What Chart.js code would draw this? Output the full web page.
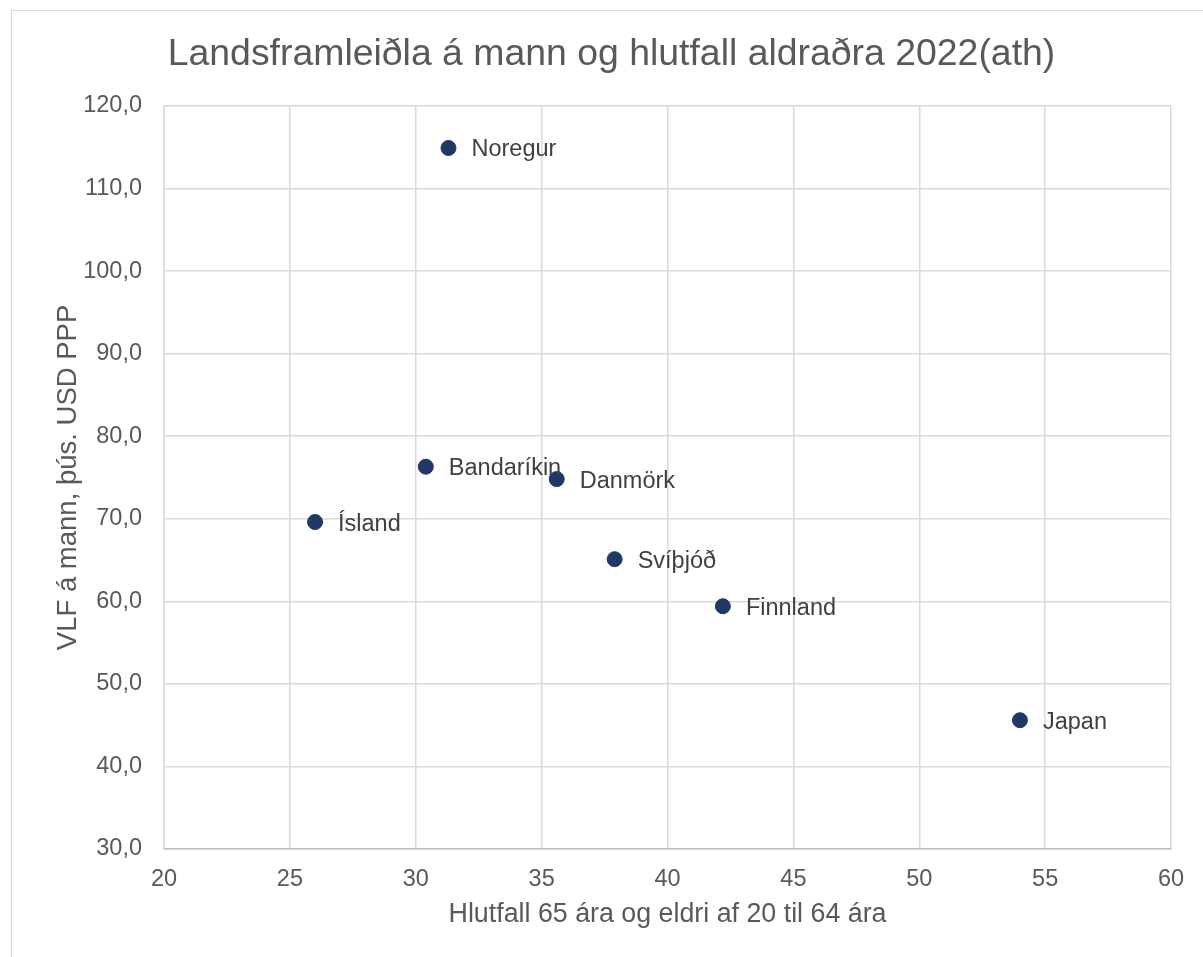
<!DOCTYPE html>
<html>
<head>
<meta charset="utf-8">
<script src="https://cdn.jsdelivr.net/npm/chart.js@4.4.1/dist/chart.umd.min.js"></script>
<style>
    html, body { margin: 0; padding: 0; background: #fff; }
    #frame { position: absolute; left: 11px; top: 10px; width: 1300px; height: 1000px; border: 1px solid #d9d9d9; }
    #wrap { position: absolute; left: 0; top: 0; width: 1203px; height: 957px; }
</style>
</head>
<body>
<div id="frame"></div>
<div id="wrap"><canvas id="scatterChart"></canvas></div>
<script>
// Data
const countries = ['Noregur', 'Bandaríkin', 'Danmörk', 'Ísland', 'Svíþjóð', 'Finnland', 'Japan'];
const elderlyRatio = [31.3, 30.4, 35.6, 26.0, 37.9, 42.2, 54.0];
const gdpPerCapita = [114.9, 76.3, 74.8, 69.6, 65.1, 59.4, 45.6];

const fontFamily = '"Liberation Sans", Arial, sans-serif';

// Country names drawn to the right of each point
const pointLabels = {
    id: 'pointLabels',
    afterDatasetsDraw(chart) {
        const ctx = chart.ctx;
        const meta = chart.getDatasetMeta(0);
        ctx.save();
        ctx.font = '23.5px ' + fontFamily;
        ctx.fillStyle = '#404040';
        ctx.textAlign = 'left';
        ctx.textBaseline = 'middle';
        meta.data.forEach((pt, i) => {
            ctx.fillText(countries[i], pt.x + 23, pt.y + 2);
        });
        ctx.restore();
    }
};

const ctx = document.getElementById('scatterChart').getContext('2d');
new Chart(ctx, {
    type: 'scatter',
    plugins: [pointLabels],
    data: {
        datasets: [{
            data: elderlyRatio.map((x, i) => ({ x: x, y: gdpPerCapita[i] })),
            backgroundColor: '#203864',
            borderColor: '#203864',
            pointRadius: 7.5,
            pointHoverRadius: 7.5
        }]
    },
    options: {
        responsive: true,
        maintainAspectRatio: false,
        animation: false,
        layout: { padding: { left: 52, right: 32, top: 0, bottom: 20 } },
        plugins: {
            legend: { display: false },
            tooltip: { enabled: false },
            title: {
                display: true,
                text: 'Landsframleiðla á mann og hlutfall aldraðra 2022(ath)',
                color: '#595959',
                font: { family: fontFamily, size: 37.4, weight: 'normal' },
                padding: { top: 32, bottom: 29 }
            }
        },
        scales: {
            x: {
                min: 20,
                max: 60,
                ticks: {
                    stepSize: 5,
                    color: '#595959',
                    padding: 16,
                    font: { family: fontFamily, size: 23.5 }
                },
                grid: { color: '#d9d9d9', lineWidth: 1.5, drawTicks: false },
                border: { color: '#bfbfbf', width: 1.5 },
                title: {
                    display: true,
                    text: 'Hlutfall 65 ára og eldri af 20 til 64 ára',
                    color: '#595959',
                    font: { family: fontFamily, size: 26.8 },
                    padding: { top: 4, bottom: 6 }
                },
                afterFit(scale) { scale.height = 88; }
            },
            y: {
                min: 30,
                max: 120,
                ticks: {
                    stepSize: 10,
                    color: '#595959',
                    padding: 22,
                    font: { family: fontFamily, size: 23.5 },
                    callback: v => v.toFixed(1).replace('.', ',')
                },
                grid: { color: '#d9d9d9', lineWidth: 1.5, drawTicks: false },
                border: { color: '#d9d9d9', width: 1.5 },
                title: {
                    display: true,
                    text: 'VLF á mann, þús. USD PPP',
                    color: '#595959',
                    font: { family: fontFamily, size: 27.5 },
                    padding: { top: 0, bottom: 4 }
                },
                afterFit(scale) { scale.width = 112; }
            }
        }
    }
});
</script>
</body>
</html>
